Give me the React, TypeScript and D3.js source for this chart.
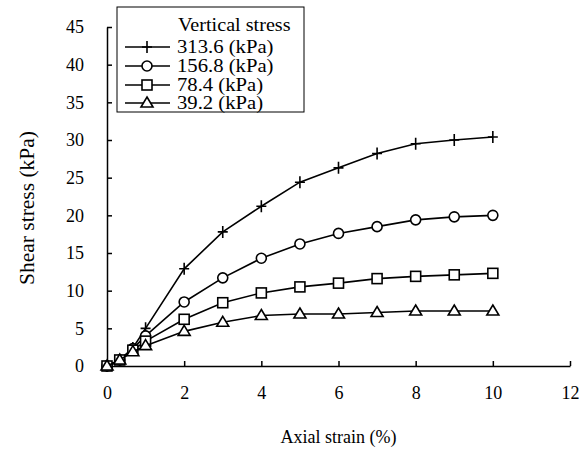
import React, { useEffect, useRef } from 'react';
import * as d3 from 'd3';

const strain = [0, 0.33, 0.67, 1, 2, 3, 4, 5, 6, 7, 8, 9, 10];
const stress313 = [0, 0.8, 2.4, 5.0, 12.9, 17.8, 21.2, 24.4, 26.3, 28.2, 29.5, 30.0, 30.4];
const stress156 = [0, 0.8, 2.3, 4.0, 8.5, 11.7, 14.3, 16.2, 17.6, 18.5, 19.4, 19.8, 20.0];
const stress78 = [0, 0.8, 2.1, 3.3, 6.2, 8.4, 9.7, 10.5, 11.0, 11.6, 11.9, 12.1, 12.3];
const stress39 = [0, 0.8, 1.9, 2.7, 4.6, 5.8, 6.7, 6.9, 6.9, 7.1, 7.3, 7.3, 7.3];
const seriesLabels = ['313.6 (kPa)', '156.8 (kPa)', '78.4 (kPa)', '39.2 (kPa)'];
const markers = ['plus', 'circle', 'square', 'triangle'];

const W = 588;
const H = 455;
const margin = { left: 107, top: 27, right: 18, bottom: 89 };
const FONT = '"Liberation Serif", "Times New Roman", serif';

function Marker({ type, x, y }: { type: string; x: number; y: number }) {
  const s = 5;
  const st = { stroke: '#000', strokeWidth: 1.6, fill: '#fff' };
  if (type === 'plus')
    return (
      <path d={`M${x - s},${y}H${x + s}M${x},${y - s - 1}V${y + s + 1}`} {...st} fill="none" />
    );
  if (type === 'circle') return <circle cx={x} cy={y} r={s} {...st} />;
  if (type === 'square') return <rect x={x - s} y={y - s} width={2 * s} height={2 * s} {...st} />;
  return <path d={`M${x},${y - s - 1}L${x + s + 1},${y + s - 1}H${x - s - 1}Z`} {...st} />;
}

export default function App() {
  const axisX = useRef<SVGGElement>(null);
  const axisY = useRef<SVGGElement>(null);

  const innerW = W - margin.left - margin.right;
  const innerH = H - margin.top - margin.bottom;
  const x = d3.scaleLinear().domain([0, 12]).range([0, innerW]);
  const y = d3.scaleLinear().domain([0, 45]).range([innerH, 0]);
  const series = [stress313, stress156, stress78, stress39];

  const line = d3
    .line<number>()
    .x((_, i) => x(strain[i]))
    .y(d => y(d));

  useEffect(() => {
    const gx = d3.select(axisX.current!);
    gx.call(d3.axisBottom(x).tickValues(d3.range(0, 13, 2)).tickSizeInner(-5).tickSizeOuter(0).tickPadding(20));
    const gy = d3.select(axisY.current!);
    gy.call(d3.axisLeft(y).tickValues(d3.range(0, 46, 5)).tickSizeInner(-5).tickSizeOuter(0).tickPadding(23));
    [gx, gy].forEach(g => {
      g.selectAll('text').attr('font-family', FONT).attr('font-size', 18).attr('fill', '#000');
      g.selectAll('line, path').attr('stroke', '#000').attr('stroke-width', 1.5);
    });
  }, []);

  // legend rows (title first)
  const legendRows = [47, 66, 85, 103];

  return (
    <svg
      width={W}
      height={H}
      viewBox={`0 0 ${W} ${H}`}
      style={{ position: 'absolute', left: 0, top: 0, background: '#fff' }}
      fontFamily={FONT}
    >
      <g transform={`translate(${margin.left}, ${margin.top})`}>
        <g ref={axisX} transform={`translate(0, ${innerH})`} />
        <g ref={axisY} />
        {series.map((s, k) => (
          <g key={k}>
            <path d={line(s) || ''} fill="none" stroke="#000" strokeWidth={1.6} />
            {s.map((v, i) => (
              <Marker key={i} type={markers[k]} x={x(strain[i])} y={y(v)} />
            ))}
          </g>
        ))}
      </g>

      <text
        transform={`translate(27, 208) rotate(-90)`}
        textAnchor="middle"
        dominantBaseline="central"
        fontSize={20}
        textLength={154}
        lengthAdjust="spacingAndGlyphs"
      >
        Shear stress (kPa)
      </text>
      <text x={margin.left + innerW / 2} y={437} textAnchor="middle" dominantBaseline="central" fontSize={18}>
        Axial strain (%)
      </text>

      <g>
        <rect x={117} y={7} width={187} height={105} fill="#fff" stroke="#000" strokeWidth={1} />
        <text
          transform="translate(178, 25) scale(1.12, 1)"
          dominantBaseline="central"
          fontSize={18}
        >
          Vertical stress
        </text>
        {seriesLabels.map((lab, k) => (
          <g key={lab}>
            <line x1={125} x2={170} y1={legendRows[k]} y2={legendRows[k]} stroke="#000" strokeWidth={1.6} />
            <Marker type={markers[k]} x={147} y={legendRows[k]} />
            <text
              transform={`translate(177, ${legendRows[k]}) scale(1.15, 1)`}
              dominantBaseline="central"
              fontSize={18}
            >
              {lab}
            </text>
          </g>
        ))}
      </g>
    </svg>
  );
}
